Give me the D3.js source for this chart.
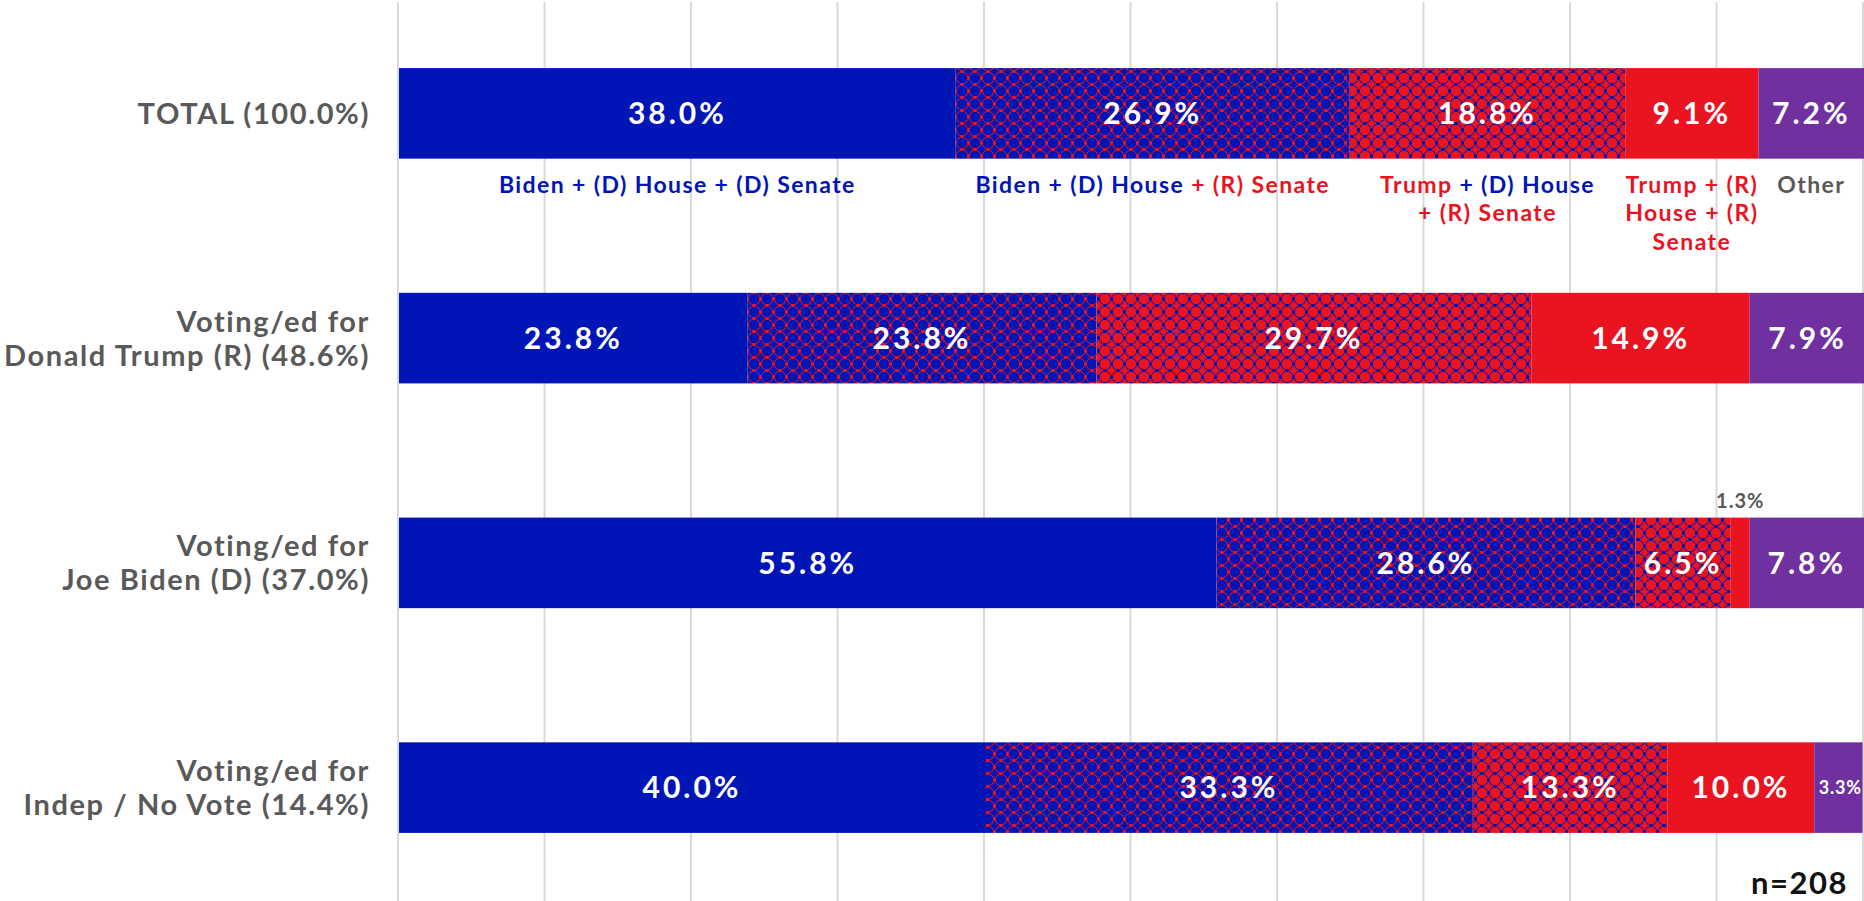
<!DOCTYPE html>
<html>
<head>
<meta charset="utf-8">
<script src="https://cdn.jsdelivr.net/npm/d3@7"></script>
<style>
  html, body { margin: 0; padding: 0; background: #fff; }
  svg { display: block; }
  text { font-family: Lato, "Open Sans", sans-serif; font-weight: 700; }
</style>
</head>
<body>
<svg id="chart" width="1864" height="901"></svg>
<script>
// ---------- DATA ----------
const categories = [
  "TOTAL (100.0%)",
  "Voting/ed for\nDonald Trump (R) (48.6%)",
  "Voting/ed for\nJoe Biden (D) (37.0%)",
  "Voting/ed for\nIndep / No Vote (14.4%)"
];
const seriesNames = [
  "Biden + (D) House + (D) Senate",
  "Biden + (D) House + (R) Senate",
  "Trump + (D) House + (R) Senate",
  "Trump + (R) House + (R) Senate",
  "Other"
];
// legend label line breaks (text only)
const seriesLabelLines = [
  ["Biden + (D) House + (D) Senate"],
  ["Biden + (D) House + (R) Senate"],
  ["Trump + (D) House", "+ (R) Senate"],
  ["Trump + (R)", "House + (R)", "Senate"],
  ["Other"]
];
const bidenDD  = [38.0, 23.8, 55.8, 40.0];
const bidenDR  = [26.9, 23.8, 28.6, 33.3];
const trumpDR  = [18.8, 29.7, 6.5, 13.3];
const trumpRR  = [9.1, 14.9, 1.3, 10.0];
const other    = [7.2, 7.9, 7.8, 3.3];
const sampleNote = "n=208";
const xTicks = [0, 10, 20, 30, 40, 50, 60, 70, 80, 90, 100];

// ---------- SETUP ----------
const BLUE = "#0015b6", RED = "#e9141f", PURPLE = "#7030a0", GRAY = "#595959";
const seriesValues = [bidenDD, bidenDR, trumpDR, trumpRR, other];
const fills = [BLUE, "url(#patBR)", "url(#patRB)", RED, PURPLE];

const svg = d3.select("#chart");
const W = 1864, H = 901;

const x = d3.scaleLinear().domain([0, 100]).range([399, 1864]);
const y = d3.scaleBand().domain(categories).range([0, 901])
  .paddingInner(0.597).paddingOuter(0.303);

// patterns
const defs = svg.append("defs");
function makePattern(id, bg, fg) {
  const s = 13, h = s / 2;
  const p = defs.append("pattern").attr("id", id)
    .attr("patternUnits", "userSpaceOnUse").attr("width", s).attr("height", s);
  p.append("rect").attr("width", s).attr("height", s).attr("fill", bg);
  p.append("path")
    .attr("d", `M0,${h} Q${h*0.75},${h*0.75} ${h},0 Q${h*1.25},${h*0.75} ${s},${h} Q${h*1.25},${h*1.25} ${h},${s} Q${h*0.75},${h*1.25} 0,${h} Z`)
    .attr("fill", "none").attr("stroke", fg).attr("stroke-width", 1.3)
    .attr("stroke-dasharray", "1.6,0.8");
  [[0, h], [h, 0], [s, h], [h, s]].forEach(([cx, cy]) => {
    p.append("rect").attr("x", cx - 1.5).attr("y", cy - 1.5)
      .attr("width", 3).attr("height", 3).attr("fill", fg);
  });
}
makePattern("patBR", BLUE, RED);
makePattern("patRB", RED, BLUE);

// gridlines
svg.append("g").selectAll("line").data(xTicks).join("line")
  .attr("x1", d => x(d) - 1).attr("x2", d => x(d) - 1)
  .attr("y1", 2).attr("y2", H)
  .attr("stroke", "#d9d9d9").attr("stroke-width", 2);

// stacked data
const rows = categories.map((c, i) => {
  let acc = 0;
  return seriesValues.map((vals, s) => {
    const seg = { cat: c, s, v: vals[i], x0: acc, x1: acc + vals[i] };
    acc += vals[i];
    return seg;
  });
});
const segs = rows.flat();

// bars
svg.append("g").selectAll("rect").data(segs).join("rect")
  .attr("x", d => x(d.x0))
  .attr("y", d => y(d.cat))
  .attr("width", d => x(d.x1) - x(d.x0))
  .attr("height", y.bandwidth())
  .attr("fill", d => fills[d.s]);

// value labels
const fmt = v => v.toFixed(1) + "%";
const vl = svg.append("g");
segs.forEach(d => {
  const w = x(d.x1) - x(d.x0);
  const cx = (x(d.x0) + x(d.x1)) / 2;
  const cy = y(d.cat) + y.bandwidth() / 2;
  if (w < 30) {
    vl.append("text").attr("x", cx).attr("y", y(d.cat) - 10)
      .attr("text-anchor", "middle").attr("fill", GRAY)
      .style("font-size", "20px").style("letter-spacing", "1px").text(fmt(d.v));
  } else if (w < 60) {
    vl.append("text").attr("x", cx + 2).attr("y", cy).attr("dy", "0.35em")
      .attr("text-anchor", "middle").attr("fill", "#fff")
      .style("font-size", "18px").style("letter-spacing", "0.8px").text(fmt(d.v));
  } else {
    vl.append("text").attr("x", cx).attr("y", cy).attr("dy", "0.36em")
      .attr("text-anchor", "middle").attr("fill", "#fff")
      .style("font-size", "30px").style("letter-spacing", "3px").text(fmt(d.v));
  }
});

// category labels
const cl = svg.append("g");
categories.forEach(c => {
  const lines = c.split("\n");
  const cy = y(c) + y.bandwidth() / 2;
  const lh = 34;
  const t = cl.append("text").attr("text-anchor", "end").attr("fill", GRAY)
    .style("font-size", "29px").style("letter-spacing", "1.6px");
  lines.forEach((ln, i) => {
    t.append("tspan").attr("x", 370)
      .attr("y", cy + (i - (lines.length - 1) / 2) * lh)
      .attr("dy", "0.36em").text(ln);
  });
});

// series legend labels under the TOTAL bar
function partColor(part, prev) {
  if (/Biden|\(D\)/.test(part)) return BLUE;
  if (/Trump|\(R\)/.test(part)) return RED;
  return prev;
}
const legY = y(categories[0]) + y.bandwidth() + 34;
const lg = svg.append("g");
rows[0].forEach((d, s) => {
  const cx = (x(d.x0) + x(d.x1)) / 2;
  const t = lg.append("text").attr("text-anchor", "middle")
    .style("font-size", "23px").style("letter-spacing", "1.4px");
  let color = GRAY;
  seriesLabelLines[s].forEach((ln, li) => {
    // split into colored parts: each "+ " belongs to the following part
    const parts = ln.split(/(?=\+ )/);
    parts.forEach((p, pi) => {
      color = partColor(p, color);
      const ts = t.append("tspan").attr("fill", color).text(p);
      if (pi === 0) ts.attr("x", cx).attr("y", legY + li * 28.5);
    });
  });
});

// sample size
svg.append("text").attr("x", 1848).attr("y", 894)
  .attr("text-anchor", "end").attr("fill", "#111")
  .style("font-size", "31px").style("letter-spacing", "1.5px").text(sampleNote);
</script>
</body>
</html>
